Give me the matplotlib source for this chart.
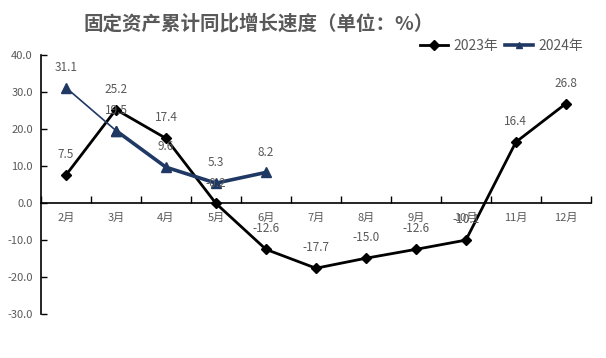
import matplotlib
matplotlib.use("Agg")
import matplotlib.pyplot as plt
import numpy as np

plt.rcParams['font.family'] = ['Noto Sans CJK SC', 'DejaVu Sans']

months = ['2月', '3月', '4月', '5月', '6月', '7月', '8月', '9月', '10月', '11月', '12月']
v2023 = [7.5, 25.2, 17.4, -0.2, -12.6, -17.7, -15.0, -12.6, -10.1, 16.4, 26.8]
v2024 = [31.1, 19.5, 9.6, 5.3, 8.2]
yticks = [40, 30, 20, 10, 0, -10, -20, -30]

grey = '#595959'
navy = '#1F3864'

fig = plt.figure(figsize=(6.06, 3.58), dpi=100)
ax = fig.add_axes([0.0677, 0.1237, 0.9073, 0.7233])

x23 = np.arange(len(v2023))
x24 = np.arange(len(v2024))

ax.plot(x23, v2023, color='black', lw=2, marker='D', ms=5, zorder=3, label='2023年')
ax.plot(x24[:2], v2024[:2], color=navy, lw=1.2, marker='^', ms=7, zorder=4)
ax.plot(x24[1:], v2024[1:], color=navy, lw=2.6, marker='^', ms=7, zorder=4)
h24, = ax.plot([], [], color=navy, lw=2.6, marker='^', ms=5, label='2024年')

for xi, v in zip(x23, v2023):
    ax.annotate(f'{v:.1f}', (xi, v), xytext=(0, 10), textcoords='offset points',
                ha='center', va='bottom', fontsize=8.5, color=grey, zorder=5)
for xi, v in zip(x24, v2024):
    ax.annotate(f'{v:.1f}', (xi, v), xytext=(0, 10), textcoords='offset points',
                ha='center', va='bottom', fontsize=8.5, color=grey, zorder=5)

ax.set_xlim(-0.5, len(months) - 0.5)
ax.set_ylim(-30, 40)
ax.set_yticks(yticks)
ax.set_yticklabels([f'{t:.1f}' for t in yticks])
ax.set_xticks(x23)
ax.set_xticklabels(months)
ax.set_xticks(np.arange(len(months) + 1) - 0.5, minor=True)

for s in ['top', 'right']:
    ax.spines[s].set_visible(False)
ax.spines['bottom'].set_position(('data', 0))
ax.spines['left'].set_linewidth(1.2)
ax.spines['bottom'].set_linewidth(1.2)

ax.tick_params(axis='x', which='major', length=0, pad=7, labelsize=8, labelcolor=grey)
ax.tick_params(axis='x', which='minor', direction='in', length=5, width=1)
ax.tick_params(axis='y', direction='in', length=4, width=1, labelsize=8, labelcolor=grey, pad=6)

fig.text(0.426, 0.935, '固定资产累计同比增长速度（单位：%）', ha='center', va='center',
         fontsize=14, fontweight='bold', color=grey)

leg = fig.legend(handles=[ax.lines[0], h24], loc='center right', bbox_to_anchor=(0.962, 0.872),
                 ncol=2, frameon=False, fontsize=10, handlelength=2.0, handletextpad=0.4,
                 columnspacing=0.5, borderaxespad=0, borderpad=0)
for t in leg.get_texts():
    t.set_color(grey)

fig.savefig('out.png', dpi=100)
